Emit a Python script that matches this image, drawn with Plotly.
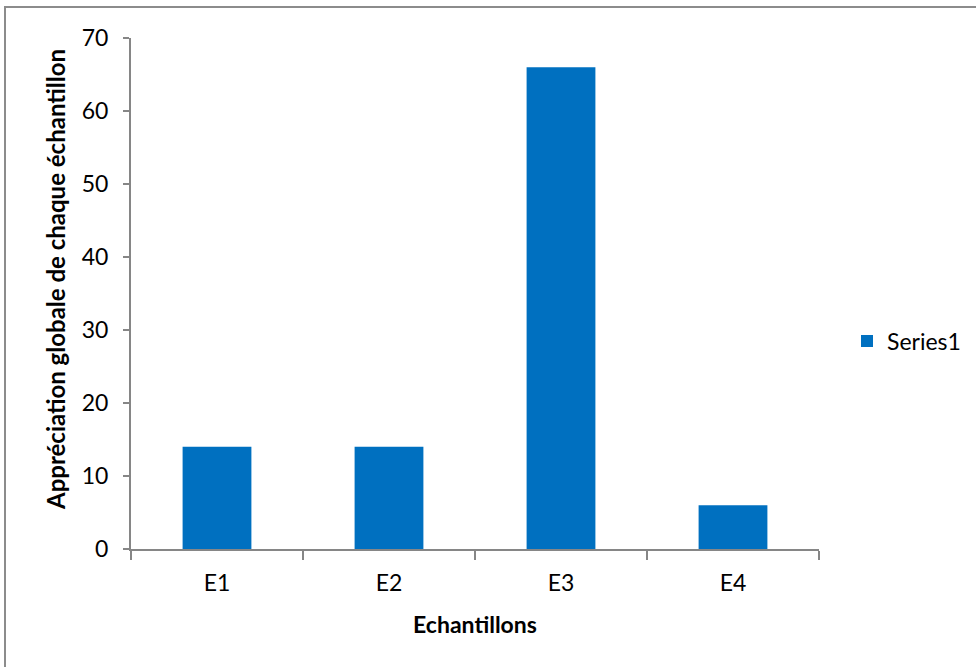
import plotly.graph_objects as go

categories = ["E1", "E2", "E3", "E4"]
values = [14, 14, 66, 6]
series_name = "Series1"
y_ticks = [0, 10, 20, 30, 40, 50, 60, 70]
x_title = "Echantillons"
y_title = "Appréciation globale de chaque échantillon"

W, H = 976, 667
ML, MR, MT, MB = 131, 157, 38, 118
PW = W - ML - MR
PH = H - MT - MB

FONT = "Lato"
AXIS_COLOR = "#868686"
FS = 24

fig = go.Figure()
fig.add_trace(go.Bar(
    x=categories, y=values, name=series_name,
    marker=dict(color="#0070C0", line=dict(width=0)),
    showlegend=True,
))

fig.update_layout(
    width=W, height=H,
    margin=dict(l=ML, r=MR, t=MT, b=MB, autoexpand=False),
    paper_bgcolor="white", plot_bgcolor="white",
    font=dict(family=FONT, size=FS, color="black"),
    bargap=0.6,
    showlegend=True,
    legend=dict(
        x=(847 - ML) / PW, y=(H - MB - 341) / PH,
        xanchor="left", yanchor="middle",
        font=dict(family=FONT, size=FS - 1, color="black"),
        itemwidth=30, bgcolor="rgba(0,0,0,0)",
    ),
    xaxis=dict(
        type="category",
        showline=True, linecolor=AXIS_COLOR, linewidth=2,
        ticks="outside", tickson="boundaries", ticklen=9,
        tickcolor=AXIS_COLOR, tickwidth=2,
        showgrid=False, zeroline=False,
        tickfont=dict(family=FONT, size=FS - 1),
        ticklabelstandoff=12,
        title=dict(text="<b>" + x_title + "</b>", font=dict(family=FONT, size=FS - 1), standoff=22),
    ),
    yaxis=dict(
        range=[0, 70], tickvals=y_ticks,
        showline=True, linecolor=AXIS_COLOR, linewidth=2,
        ticks="outside", ticklen=6, tickcolor=AXIS_COLOR, tickwidth=2,
        showgrid=False, zeroline=False,
        tickfont=dict(family=FONT, size=FS - 1),
        ticklabelstandoff=10,
    ),
    annotations=[dict(
        text="<b>" + y_title + "</b>", textangle=-90,
        xref="paper", yref="paper",
        x=(55 - ML) / PW, y=(H - MB - 280) / PH,
        xanchor="center", yanchor="middle", showarrow=False,
        font=dict(family=FONT, size=FS, color="black"),
    )],
    shapes=[dict(
        type="rect", xref="paper", yref="paper",
        x0=(5 - ML) / PW, x1=(W + 20 - ML) / PW,
        y0=(H - MB - 7) / PH, y1=(H - MB - (H + 20)) / PH,
        line=dict(color="#8c8c8c", width=2), fillcolor="rgba(0,0,0,0)",
        layer="below",
    )],
)

fig.write_html(
    "out.html",
    config={"displayModeBar": False},
    post_script="document.body.style.margin='0px';document.body.style.overflow='hidden';",
)
